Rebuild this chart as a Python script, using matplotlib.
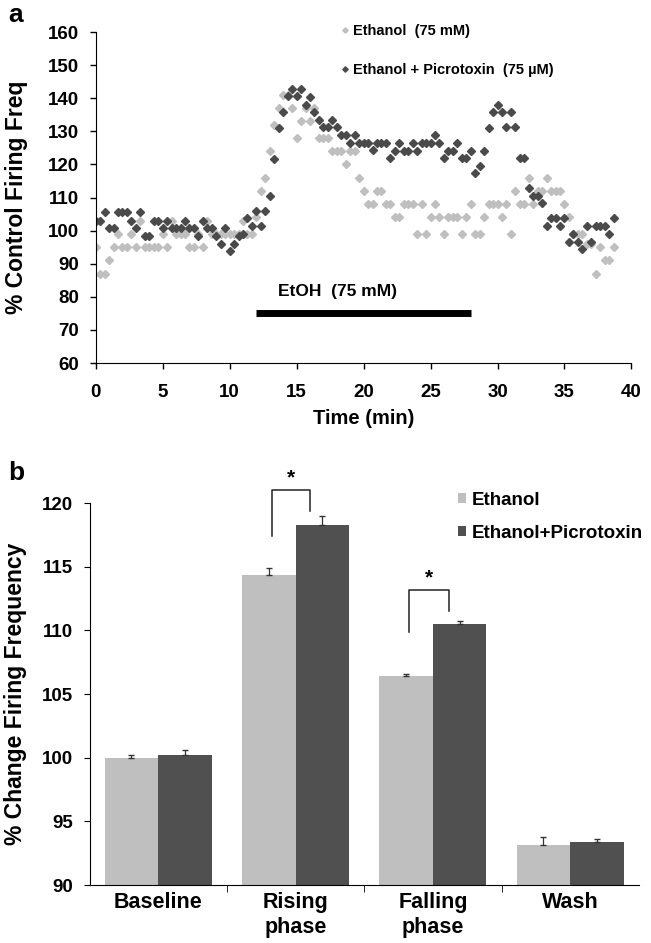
import matplotlib
matplotlib.use('Agg')
import numpy as np
import matplotlib.pyplot as plt

plt.rcParams['font.family'] = ['Liberation Sans', 'DejaVu Sans']
plt.rcParams['font.weight'] = 'bold'
plt.rcParams['axes.labelweight'] = 'bold'

# ---- panel a: firing frequency over time (one sample every 20 s) ----
sample_min = 1 / 3
ethanol = [95, 87, 87, 91, 95, 99, 95, 95, 99, 95,
           103, 95, 95, 95, 95, 99, 95, 103, 99, 99,
           99, 95, 95, 99, 95, 103, 99, 99, 99, 99,
           99, 99, 99, 103, 99, 99, 104, 112, 116, 124,
           132, 137, 141, 141, 137, 128, 133, 137, 133, 137,
           128, 128, 128, 124, 124, 124, 120, 124, 124, 116,
           112, 108, 108, 112, 112, 108, 108, 104, 104, 108,
           108, 108, 99, 108, 99, 104, 108, 104, 99, 104,
           104, 104, 99, 104, 108, 99, 99, 104, 108, 108,
           108, 104, 108, 99, 112, 108, 108, 116, 108, 112,
           112, 116, 112, 112, 112, 108, 104, 99, 99, 99,
           96, 96, 87, 95, 91, 91, 95]
picrotoxin = [103, 103, 105.5, 100.7, 100.7, 105.5, 105.5, 105.5, 103, 100.7,
              105.5, 98.5, 98.5, 103, 103, 100.7, 103, 100.7, 100.7, 100.7,
              103, 100.7, 100.7, 98.5, 103, 100.7, 100.7, 98.5, 96, 100.7,
              94, 96, 98.5, 99, 103.7, 101.4, 106, 101.4, 106, 110.4,
              121.8, 131, 136, 140.6, 142.8, 140.6, 142.8, 138, 140.4, 136,
              133.4, 131.2, 131.2, 133.4, 131.2, 129, 129, 126.5, 129, 126.5,
              126.5, 126.5, 124.3, 126.5, 126.5, 126.5, 121.9, 124.2, 126.5, 124.2,
              124.2, 126.5, 124.2, 126.4, 126.4, 126.4, 128.9, 126.4, 121.9, 124.1,
              124.1, 126.4, 121.9, 121.9, 124.1, 117.3, 119.5, 124.1, 131, 135.7,
              138, 135.7, 131.2, 135.7, 131.2, 121.9, 121.9, 112.8, 110.5, 110.5,
              108.3, 101.4, 103.7, 103.7, 101.4, 103.7, 96.7, 99, 96.7, 94.6,
              101.4, 96.7, 101.4, 101.4, 101.4, 99, 103.7]
time_min = np.arange(len(ethanol)) * sample_min
etoh_on, etoh_off = 12, 28

# ---- panel b: mean % change per phase (+ SEM) ----
phases = ['Baseline', 'Rising\nphase', 'Falling\nphase', 'Wash']
eth_mean = [99.95, 114.35, 106.4, 93.15]
eth_err = [0.25, 0.55, 0.15, 0.65]
pic_mean = [100.2, 118.3, 110.5, 93.35]
pic_err = [0.4, 0.7, 0.2, 0.3]

light = '#bfbfbf'
dark = '#4a4a4a'

fig = plt.figure(figsize=(6.51, 9.43), dpi=100)

# panel a
ax1 = fig.add_axes([0.147, 0.615, 0.823, 0.351])
ax1.plot(time_min, ethanol, 'D', color=light, ms=3.9, mec=light, label='Ethanol  (75 mM)')
ax1.plot(time_min, picrotoxin, 'D', color=dark, ms=3.9, mec=dark,
         label='Ethanol + Picrotoxin  (75 \u00b5M)')
ax1.plot([etoh_on, etoh_off], [75, 75], color='black', lw=5, solid_capstyle='butt')
ax1.text(13.6, 79.5, 'EtOH  (75 mM)', ha='left', va='bottom', fontsize=12.5)
ax1.set_xlim(0, 40)
ax1.set_ylim(60, 160)
ax1.set_xticks(range(0, 41, 5))
ax1.set_yticks(range(60, 161, 10))
ax1.set_xlabel('Time (min)', fontsize=14.5, labelpad=6)
ax1.set_ylabel('% Control Firing Freq', fontsize=16.5)
ax1.yaxis.set_label_coords(-0.126, 0.5)
ax1.tick_params(labelsize=13.5, direction='out', length=4, width=1)
ax1.tick_params(axis='x', pad=11)
ax1.tick_params(axis='y', pad=8)
for s in ['top', 'right']:
    ax1.spines[s].set_visible(False)
ax1.legend(loc='upper left', bbox_to_anchor=(0.451, 1.025), frameon=False, fontsize=10.5,
           borderpad=0, borderaxespad=0, handletextpad=0.1, labelspacing=1.75,
           handlelength=1, markerscale=0.7)

# panel b
ax2 = fig.add_axes([0.1375, 0.0615, 0.844, 0.405])
x = np.arange(len(phases))
w = 0.39
ax2.bar(x - w / 2, eth_mean, w, color=light, label='Ethanol')
ax2.bar(x + w / 2, pic_mean, w, color='#505050', label='Ethanol+Picrotoxin')
ax2.errorbar(x - w / 2, eth_mean, yerr=[np.zeros(4), eth_err], fmt='none',
             ecolor='#333333', elinewidth=0.9, capsize=2.5)
ax2.errorbar(x + w / 2, pic_mean, yerr=[np.zeros(4), pic_err], fmt='none',
             ecolor='#333333', elinewidth=0.9, capsize=2.5)

# significance brackets
for xl, yl, xr, yr, ytop in [(0.826, 117.45, 1.108, 119.35, 121.0),
                              (1.826, 109.85, 2.117, 111.5, 113.2)]:
    ax2.plot([xl, xl, xr, xr], [yl, ytop, ytop, yr], color='#222222', lw=1.1, clip_on=False)
    ax2.text((xl + xr) / 2, ytop + 0.2, '*', ha='center', va='bottom', fontsize=15,
             clip_on=False)

ax2.set_xlim(-0.5, 3.5)
ax2.set_ylim(90, 120)
ax2.set_yticks(range(90, 121, 5))
ax2.set_xticks(x)
ax2.set_xticklabels(phases, fontsize=15.5, linespacing=1.25)
ax2.set_xticks([0.5, 1.5, 2.5], minor=True)
ax2.tick_params(axis='x', which='major', length=0, pad=5)
ax2.tick_params(axis='x', which='minor', length=5, direction='out')
ax2.tick_params(axis='y', labelsize=13.5, direction='out', length=4, pad=8)
ax2.set_ylabel('% Change Firing Frequency', fontsize=16.5)
ax2.yaxis.set_label_coords(-0.114, 0.5)
for s in ['top', 'right']:
    ax2.spines[s].set_visible(False)
fig.legend(handles=[ax2.patches[0], ax2.patches[4]], labels=['Ethanol', 'Ethanol+Picrotoxin'],
           loc='upper left', bbox_to_anchor=(0.703, 0.4787), frameon=False, fontsize=13.5,
           borderpad=0, borderaxespad=0, handlelength=0.45, handleheight=0.45,
           handletextpad=0.3, labelspacing=0.85)

fig.text(0.013, 0.9767, 'a', fontsize=19, va='baseline')
fig.text(0.013, 0.491, 'b', fontsize=19, va='baseline')

fig.savefig('out.png', dpi=100)
